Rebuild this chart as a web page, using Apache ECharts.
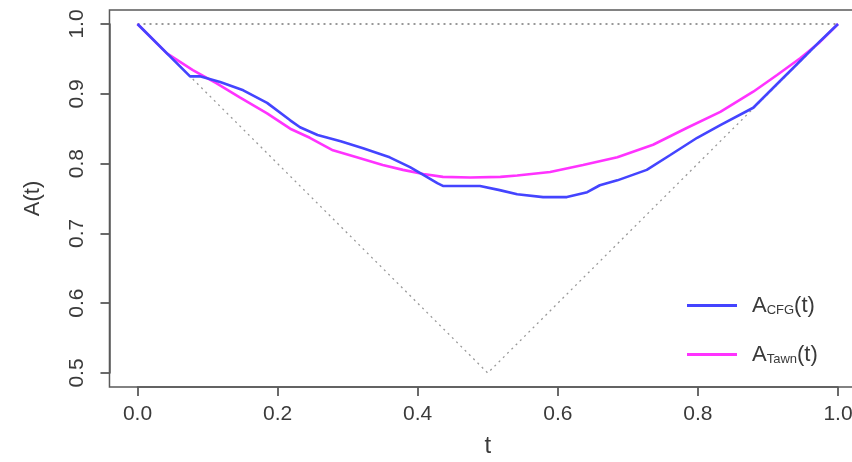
<!DOCTYPE html>
<html>
<head>
<meta charset="utf-8">
<script src="https://cdn.jsdelivr.net/npm/echarts@6/dist/echarts.min.js"></script>
<style>
html,body{margin:0;padding:0;background:#fff;}
#chart{width:852px;height:462px;}
</style>
</head>
<body>
<div id="chart"></div>
<script>
// Data
var tickValuesX = [0, 0.2, 0.4, 0.6, 0.8, 1.0];
var tickValuesY = [0.5, 0.6, 0.7, 0.8, 0.9, 1.0];

var cfgT = [0, 0.075, 0.089, 0.118, 0.151, 0.185, 0.218, 0.232, 0.257, 0.290, 0.322, 0.360, 0.389, 0.408, 0.428, 0.436, 0.475, 0.489, 0.517, 0.542, 0.579, 0.613, 0.642, 0.660, 0.685, 0.727, 0.760, 0.799, 0.832, 0.879, 0.913, 0.946, 0.974, 1.0];
var cfgA = [1.0, 0.925, 0.925, 0.917, 0.905, 0.887, 0.862, 0.852, 0.841, 0.832, 0.822, 0.809, 0.795, 0.784, 0.772, 0.768, 0.768, 0.768, 0.762, 0.756, 0.752, 0.752, 0.759, 0.769, 0.776, 0.791, 0.812, 0.837, 0.855, 0.880, 0.914, 0.947, 0.975, 1.0];

var tawnT = [0, 0.042, 0.079, 0.113, 0.146, 0.185, 0.218, 0.246, 0.279, 0.313, 0.350, 0.379, 0.408, 0.436, 0.475, 0.518, 0.542, 0.589, 0.636, 0.685, 0.736, 0.784, 0.832, 0.879, 0.913, 0.946, 0.974, 1.0];
var tawnA = [1.0, 0.958, 0.934, 0.915, 0.895, 0.872, 0.850, 0.837, 0.819, 0.809, 0.798, 0.791, 0.785, 0.781, 0.780, 0.781, 0.783, 0.788, 0.798, 0.809, 0.827, 0.851, 0.874, 0.903, 0.927, 0.951, 0.974, 1.0];

var upperT = [0, 1];
var upperA = [1, 1];
var lowerT = [0, 0.5, 1];
var lowerA = [1, 0.5, 1];

function pairs(xs, ys){ return xs.map(function(x,i){ return [x, ys[i]]; }); }

var chart = echarts.init(document.getElementById('chart'), null, {renderer:'canvas'});
var textColor = '#3a3a3a';
var axisColor = '#5a5a5a';
var font = 'Liberation Sans, Arial, sans-serif';

// data region spans t in [0,1], A in [0.5,1]; the R-style box is 4% larger on each side
var gLeft = 137.5, gTop = 24, gWidth = 700.5, gHeight = 349;
var padX = 0.04 * gWidth, padY = 0.04 * gHeight;

chart.setOption({
  animation: false,
  backgroundColor: '#fff',
  grid: {left: gLeft, top: gTop, width: gWidth, height: gHeight, containLabel: false, outerBoundsMode: 'none', show: false},
  graphic: [{
    type: 'rect', silent: true, z: 0,
    shape: {x: gLeft - padX, y: gTop - padY, width: gWidth + 2 * padX, height: gHeight + 2 * padY},
    style: {fill: 'none', stroke: axisColor, lineWidth: 1.5}
  }],
  xAxis: {
    type: 'value', min: 0, max: 1, interval: 0.2, offset: padY,
    name: 't', nameLocation: 'middle', nameGap: 47, nameMoveOverlap: false,
    nameTextStyle: {color: textColor, fontSize: 24, fontFamily: font},
    axisLine: {show: true, onZero: false, lineStyle: {color: axisColor, width: 1.5}},
    splitLine: {show: false},
    axisTick: {show: true, inside: false, length: 9, lineStyle: {color: axisColor, width: 1.8}},
    axisLabel: {margin: 17, color: textColor, fontSize: 21, fontFamily: font,
      formatter: function(v){ return v.toFixed(1); }}
  },
  yAxis: {
    type: 'value', min: 0.5, max: 1.0, interval: 0.1, offset: padX,
    name: 'A(t)', nameLocation: 'middle', nameGap: 66, nameRotate: 90, nameMoveOverlap: false,
    nameTextStyle: {color: textColor, fontSize: 22, fontFamily: font},
    axisLine: {show: true, onZero: false, lineStyle: {color: axisColor, width: 1.5}},
    splitLine: {show: false},
    axisTick: {show: true, inside: false, length: 9, lineStyle: {color: axisColor, width: 1.8}},
    axisLabel: {rotate: 90, margin: 22, color: textColor, fontSize: 21, fontFamily: font,
      formatter: function(v){ return v.toFixed(1); }}
  },
  legend: {
    show: true, orient: 'vertical', left: 682, top: 289,
    icon: 'rect', itemWidth: 50, itemHeight: 3, itemGap: 26,
    data: ['CFG', 'Tawn'],
    formatter: function(name){ return '{a|A}{s|' + name + '}{a|(t)}'; },
    textStyle: {
      color: textColor, fontFamily: font, padding: [0,0,0,10],
      rich: {
        a: {fontSize: 22, fontFamily: font, color: textColor, lineHeight: 26},
        s: {fontSize: 13, fontFamily: font, color: textColor, padding: [10,0,0,0], lineHeight: 26}
      }
    }
  },
  series: [
    {name: 'upper', type: 'line', data: pairs(upperT, upperA), symbol: 'none', silent: true, clip: false,
      lineStyle: {color: '#777', width: 1.5, type: [2, 4]}, z: 1},
    {name: 'lower', type: 'line', data: pairs(lowerT, lowerA), symbol: 'none', silent: true, clip: false,
      lineStyle: {color: '#999', width: 1.3, type: [2, 4]}, z: 1},
    {name: 'Tawn', type: 'line', data: pairs(tawnT, tawnA), symbol: 'none', smooth: false, clip: false,
      lineStyle: {color: '#ff33ff', width: 2.6}, itemStyle: {color: '#ff33ff'}, z: 2},
    {name: 'CFG', type: 'line', data: pairs(cfgT, cfgA), symbol: 'none', smooth: false, clip: false,
      lineStyle: {color: '#4444ff', width: 2.6}, itemStyle: {color: '#4444ff'}, z: 3}
  ]
});
</script>
</body>
</html>
